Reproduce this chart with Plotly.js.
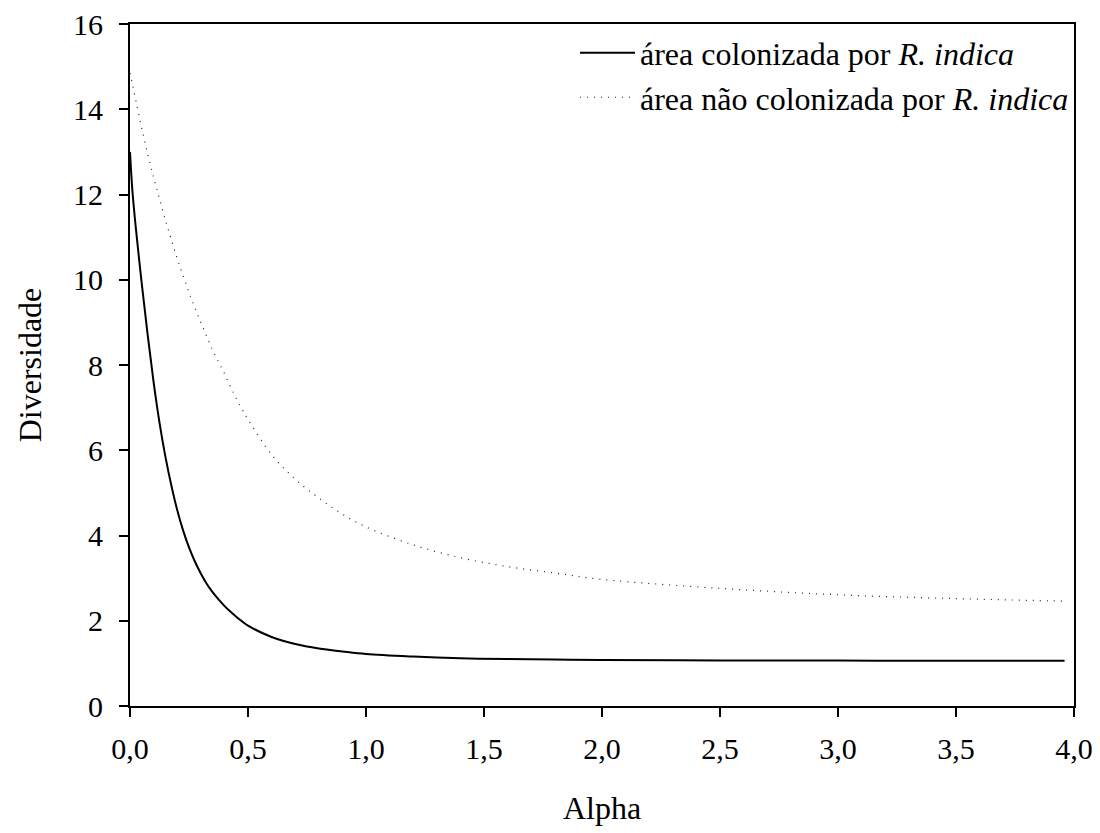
<!DOCTYPE html>
<html>
<head>
<meta charset="utf-8">
<script src="https://cdn.plot.ly/plotly-3.0.1.min.js"></script>
<style>html,body{margin:0;padding:0;background:#fff;}#chart{width:1100px;height:833px;}</style>
</head>
<body>
<div id="chart"></div>
<script>
const alpha = [0, 0.01, 0.025, 0.05, 0.075, 0.1, 0.125, 0.15, 0.175, 0.2, 0.225, 0.25, 0.275, 0.3, 0.325, 0.35, 0.375, 0.4, 0.425, 0.45, 0.475, 0.5, 0.6, 0.7, 0.8, 0.9, 1.0, 1.2, 1.4, 1.6, 1.8, 2.0, 2.5, 3.0, 3.5, 3.96];
const colonizada = [13.0, 12.1, 11.2, 9.9, 8.7, 7.6, 6.65, 5.85, 5.18, 4.6, 4.12, 3.72, 3.39, 3.11, 2.87, 2.67, 2.5, 2.35, 2.215, 2.095, 1.985, 1.885, 1.62, 1.455, 1.35, 1.28, 1.22, 1.16, 1.12, 1.10, 1.09, 1.08, 1.07, 1.065, 1.06, 1.06];
const naoColonizada = [14.85, 14.6, 14.2, 13.55, 12.95, 12.4, 11.9, 11.4, 10.95, 10.5, 10.1, 9.7, 9.34, 9.0, 8.67, 8.35, 8.07, 7.8, 7.5, 7.22, 6.96, 6.72, 5.9, 5.32, 4.88, 4.5, 4.2, 3.78, 3.48, 3.27, 3.12, 2.97, 2.76, 2.61, 2.52, 2.46];
const seriesNames = ['área colonizada por <i>R. indica</i>', 'área não colonizada por <i>R. indica</i>'];
const xTicks = [0, 0.5, 1, 1.5, 2, 2.5, 3, 3.5, 4];
const yTicks = [0, 2, 4, 6, 8, 10, 12, 14, 16];

const font = '"Liberation Serif", "Times New Roman", Times, serif';
const traces = [
  {x: alpha, y: colonizada, name: seriesNames[0], mode: 'lines', line: {color: '#000', width: 2, shape: 'spline'}, legendgroup: 'a'},
  {x: alpha, y: naoColonizada, name: seriesNames[1], mode: 'lines', line: {color: '#222', width: 1.2, dash: '1px,6px', shape: 'spline'}, legendgroup: 'b'}
];
const layout = {
  width: 1100, height: 833,
  margin: {l: 130, r: 26, t: 24, b: 127},
  paper_bgcolor: '#fff', plot_bgcolor: '#fff',
  separators: ',.',
  font: {family: font, size: 30, color: '#000'},
  showlegend: true,
  legend: {x: 1, xanchor: 'right', y: 0.998, yanchor: 'top', bgcolor: 'rgba(0,0,0,0)', font: {family: font, size: 32}, tracegroupgap: 0, traceorder: 'grouped', itemwidth: 55},
  xaxis: {
    range: [0, 4], tickvals: xTicks, tickformat: '.1f',
    showline: true, linecolor: '#000', linewidth: 2, mirror: true,
    ticks: 'outside', ticklen: 9, tickwidth: 2, tickcolor: '#000',
    showgrid: false, zeroline: false, ticklabelstandoff: 6,
    tickfont: {family: font, size: 30},
    title: {text: 'Alpha', font: {family: font, size: 32}, standoff: 33}
  },
  yaxis: {
    range: [0, 16], tickvals: yTicks,
    showline: true, linecolor: '#000', linewidth: 2, mirror: true,
    ticks: 'outside', ticklen: 9, tickwidth: 2, tickcolor: '#000',
    showgrid: false, zeroline: false, ticklabelstandoff: 10,
    tickfont: {family: font, size: 30},
    title: {text: 'Diversidade', font: {family: font, size: 32}, standoff: 22}
  }
};
Plotly.newPlot('chart', traces, layout, {displayModeBar: false, staticPlot: true});
</script>
</body>
</html>
